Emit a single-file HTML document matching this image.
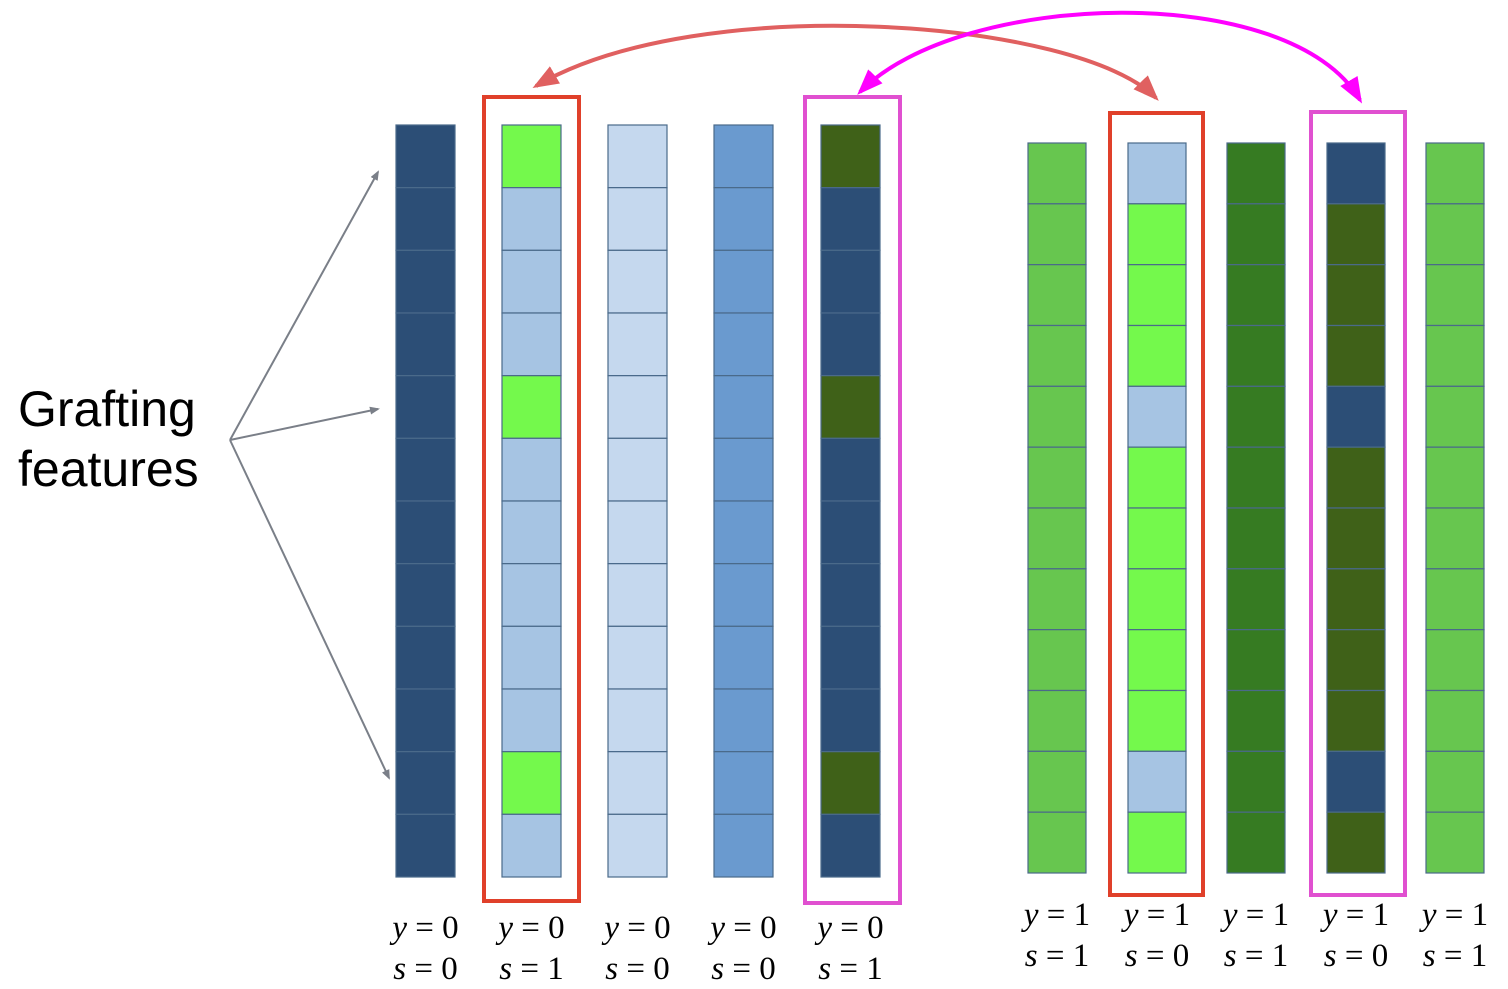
<!DOCTYPE html>
<html><head><meta charset="utf-8"><style>
html,body{margin:0;padding:0;background:#fff;}
svg{display:block;}
.lbl{font-family:"Liberation Serif",serif;font-size:33px;fill:#000;}
</style></head><body>
<svg id="chart" width="1508" height="989" viewBox="0 0 1508 989">
<defs>
<marker id="ag" markerWidth="10" markerHeight="10" refX="8" refY="4" orient="auto" markerUnits="userSpaceOnUse"><path d="M0,0 L10,4 L0,8 z" fill="#7a7f88"/></marker>
<marker id="ar" markerWidth="28" markerHeight="24" refX="22" refY="10" orient="auto-start-reverse" markerUnits="userSpaceOnUse"><path d="M0,0 L26,10 L0,20 z" fill="#e06060"/></marker>
<marker id="am" markerWidth="28" markerHeight="24" refX="22" refY="10" orient="auto-start-reverse" markerUnits="userSpaceOnUse"><path d="M0,0 L26,10 L0,20 z" fill="#ff00ff"/></marker>
</defs>
<g id="cols"></g>
<text x="18" y="426" font-family="Liberation Sans, sans-serif" font-size="50">Grafting</text>
<text x="18" y="486" font-family="Liberation Sans, sans-serif" font-size="50">features</text>
<g stroke="#7a7f88" stroke-width="2" fill="none">
<line x1="230" y1="440" x2="378" y2="172" marker-end="url(#ag)"/>
<line x1="230" y1="440" x2="378" y2="409" marker-end="url(#ag)"/>
<line x1="230" y1="440" x2="389" y2="778" marker-end="url(#ag)"/>
</g>
<rect x="484" y="97" width="95" height="804" fill="none" stroke="#e0402a" stroke-width="4"/>
<rect x="805" y="97" width="95" height="806" fill="none" stroke="#e050d0" stroke-width="4"/>
<rect x="1110" y="113" width="93" height="782" fill="none" stroke="#e0402a" stroke-width="4"/>
<rect x="1311" y="112" width="94" height="783" fill="none" stroke="#e050d0" stroke-width="4"/>
<path d="M1156,98 C1080,20 700,-10 536,86" fill="none" stroke="#e06060" stroke-width="4" marker-start="url(#ar)" marker-end="url(#ar)"/>
<path d="M1360,100 C1290,-20 960,-10 860,92" fill="none" stroke="#ff00ff" stroke-width="4" marker-start="url(#am)" marker-end="url(#am)"/>
</svg>
<script>
const C={n:"#2c4e76",lb:"#a6c4e3",vl:"#c5d8ee",mb:"#6a9acf",dg:"#3f6118",bg:"#74f94c",g:"#67c64f",fg:"#367b22"};
const leftCols=[
 Array(12).fill("n"),
 ["bg","lb","lb","lb","bg","lb","lb","lb","lb","lb","bg","lb"],
 Array(12).fill("vl"),
 Array(12).fill("mb"),
 ["dg","n","n","n","dg","n","n","n","n","n","dg","n"]];
const rightCols=[
 Array(12).fill("g"),
 ["lb","bg","bg","bg","lb","bg","bg","bg","bg","bg","lb","bg"],
 Array(12).fill("fg"),
 ["n","dg","dg","dg","n","dg","dg","dg","dg","dg","n","dg"],
 Array(12).fill("g")];
const leftY=["0","0","0","0","0"], leftS=["0","1","0","0","1"];
const rightY=["1","1","1","1","1"], rightS=["1","0","1","0","1"];
const leftX=[396,502,608,714,821], rightX=[1028,1128,1227,1327,1426];
const g=document.getElementById('cols');
const NS="http://www.w3.org/2000/svg";
function mkLabel(x,y,v,val){
 const t=document.createElementNS(NS,'text');
 t.setAttribute('x',x);t.setAttribute('y',y);t.setAttribute('text-anchor','middle');t.setAttribute('class','lbl');
 const a=document.createElementNS(NS,'tspan');a.setAttribute('font-style','italic');a.textContent=v;
 t.appendChild(a);
 t.appendChild(document.createTextNode(' = '+val));
 return t;
}
function draw(cols,xs,top,bottom,w,ys,ss,ly){
 cols.forEach((col,i)=>{
  const h=(bottom-top)/col.length;
  col.forEach((c,j)=>{
   const r=document.createElementNS(NS,'rect');
   r.setAttribute('x',xs[i]);r.setAttribute('y',top+j*h);
   r.setAttribute('width',w);r.setAttribute('height',h);
   r.setAttribute('fill',C[c]);r.setAttribute('stroke','#4a6a8a');r.setAttribute('stroke-width','1.2');
   
   
   g.appendChild(r);
  });
  const t1=mkLabel(xs[i]+w/2,ly,'y',ys[i]);
  
  
  g.appendChild(t1);
  const t2=mkLabel(xs[i]+w/2,ly+41,'s',ss[i]);
  
  
  g.appendChild(t2);
 });
}
draw(leftCols,leftX,125,877,59,leftY,leftS,938);
draw(rightCols,rightX,143,873,58,rightY,rightS,925);
</script>
</body></html>
